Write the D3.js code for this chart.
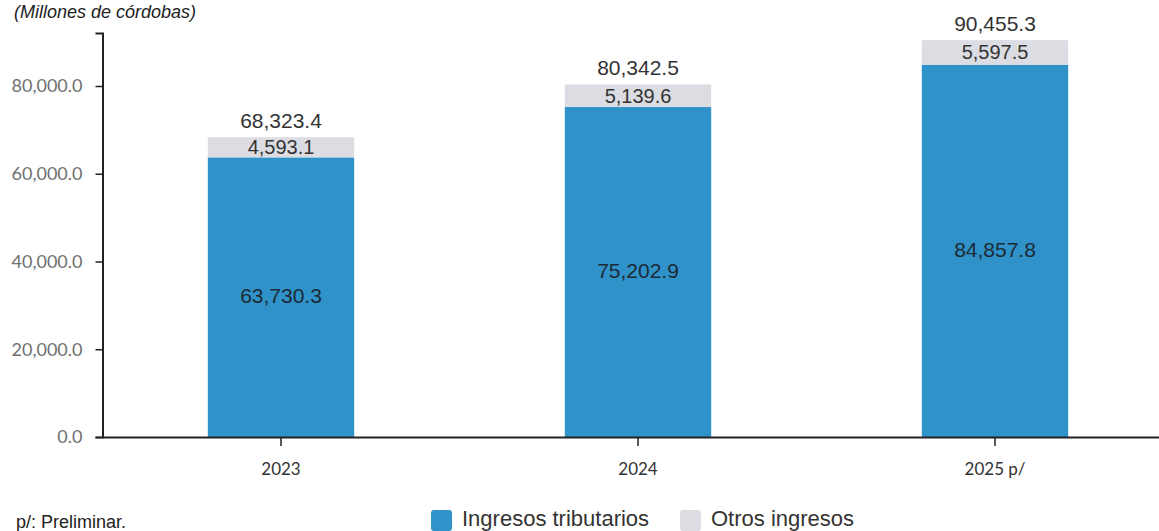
<!DOCTYPE html>
<html>
<head>
<meta charset="utf-8">
<script src="https://cdn.jsdelivr.net/npm/d3@7"></script>
<style>
  body { margin: 0; background: #fff; }
  svg { display: block; }
</style>
</head>
<body>
<div id="chart"></div>
<script>
// chart data
var years = ["2023", "2024", "2025 p/"];
var tributarios = [63730.3, 75202.9, 84857.8];
var otros = [4593.1, 5139.6, 5597.5];
var totals = [68323.4, 80342.5, 90455.3];
var yTicks = [0, 20000, 40000, 60000, 80000];
var seriesNames = ["Ingresos tributarios", "Otros ingresos"];

var width = 1159, height = 531;
var margin = { top: 33, left: 102.5, right: -14.5, bottom: 94 };
var colors = ["#2f92c8", "#dcdde2"];

var svg = d3.select("#chart")
    .append("svg")
    .attr("width", width)
    .attr("height", height);

var x = d3.scaleBand()
    .domain(years)
    .range([margin.left, width - margin.right])
    .paddingInner(0.59)
    .paddingOuter(0.295);

var y = d3.scaleLinear()
    .domain([0, 92080])
    .range([height - margin.bottom, margin.top]);

var fmt = d3.format(",.1f");

// unit caption
svg.append("text")
    .attr("x", 14)
    .attr("y", 18)
    .attr("font-family", "Liberation Sans, Arial, sans-serif")
    .attr("font-style", "italic")
    .attr("font-size", 18)
    .attr("fill", "#222")
    .text("(Millones de córdobas)");

// bars: blue base then grey top
var bars = svg.append("g");
bars.selectAll(".trib")
    .data(years)
    .enter()
    .append("rect")
    .attr("class", "trib")
    .attr("x", function(d) { return x(d); })
    .attr("width", x.bandwidth())
    .attr("y", function(d, i) { return y(tributarios[i]); })
    .attr("height", function(d, i) { return y(0) - y(tributarios[i]); })
    .attr("fill", colors[0]);

bars.selectAll(".otros")
    .data(years)
    .enter()
    .append("rect")
    .attr("class", "otros")
    .attr("x", function(d) { return x(d); })
    .attr("width", x.bandwidth())
    .attr("y", function(d, i) { return y(tributarios[i] + otros[i]); })
    .attr("height", function(d, i) { return y(tributarios[i]) - y(tributarios[i] + otros[i]); })
    .attr("fill", colors[1]);

// y axis
var yAxis = svg.append("g")
    .attr("transform", "translate(" + margin.left + ",0)")
    .call(d3.axisLeft(y).tickValues(yTicks).tickFormat(fmt).tickSize(7).tickPadding(13));
yAxis.select(".domain").attr("stroke", "#222").attr("stroke-width", 2);
yAxis.selectAll(".tick line").attr("stroke", "#222").attr("stroke-width", 1.5);
yAxis.selectAll(".tick text")
    .attr("font-family", "Lato, sans-serif")
    .attr("font-size", 18)
    .attr("fill", "#707070");

// x axis
var xAxis = svg.append("g")
    .attr("transform", "translate(0," + y(0) + ")")
    .call(d3.axisBottom(x).tickSize(9).tickPadding(17).tickSizeOuter(0));
xAxis.select(".domain").attr("stroke", "#222").attr("stroke-width", 2);
xAxis.selectAll(".tick line").attr("stroke", "#222").attr("stroke-width", 1.5);
xAxis.selectAll(".tick text")
    .attr("font-family", "Lato, sans-serif")
    .attr("font-size", 17)
    .attr("fill", "#333");

// value labels
var labels = svg.append("g")
    .attr("font-family", "Liberation Sans, Arial, sans-serif")
    .attr("font-size", 21)
    .attr("fill", "#333")
    .attr("text-anchor", "middle");

labels.selectAll(".lblTrib")
    .data(years)
    .enter()
    .append("text")
    .attr("x", function(d) { return x(d) + x.bandwidth() / 2; })
    .attr("y", function(d, i) { return (y(0) + y(tributarios[i])) / 2; })
    .attr("dy", "0.3em")
    .attr("fill", "#1d2a35")
    .text(function(d, i) { return fmt(tributarios[i]); });

labels.selectAll(".lblOtros")
    .data(years)
    .enter()
    .append("text")
    .attr("x", function(d) { return x(d) + x.bandwidth() / 2; })
    .attr("y", function(d, i) { return (y(tributarios[i]) + y(tributarios[i] + otros[i])) / 2; })
    .attr("dy", "0.35em")
    .attr("font-size", 20)
    .text(function(d, i) { return fmt(otros[i]); });

labels.selectAll(".lblTot")
    .data(years)
    .enter()
    .append("text")
    .attr("x", function(d) { return x(d) + x.bandwidth() / 2; })
    .attr("y", function(d, i) { return y(totals[i]) - 9; })
    .text(function(d, i) { return fmt(totals[i]); });

// footnote
svg.append("text")
    .attr("x", 16)
    .attr("y", 528)
    .attr("font-family", "Liberation Sans, Arial, sans-serif")
    .attr("font-size", 18)
    .attr("fill", "#222")
    .text("p/: Preliminar.");

// legend
var legendX = [431, 680];
var legend = svg.append("g");
legend.selectAll("rect")
    .data(seriesNames)
    .enter()
    .append("rect")
    .attr("x", function(d, i) { return legendX[i]; })
    .attr("y", 510)
    .attr("width", 21)
    .attr("height", 21)
    .attr("rx", 3)
    .attr("fill", function(d, i) { return colors[i]; });
legend.selectAll("text")
    .data(seriesNames)
    .enter()
    .append("text")
    .attr("x", function(d, i) { return legendX[i] + 31; })
    .attr("y", 526)
    .attr("font-family", "Liberation Sans, Arial, sans-serif")
    .attr("font-size", 22)
    .attr("fill", "#333")
    .text(function(d) { return d; });
</script>
</body>
</html>
